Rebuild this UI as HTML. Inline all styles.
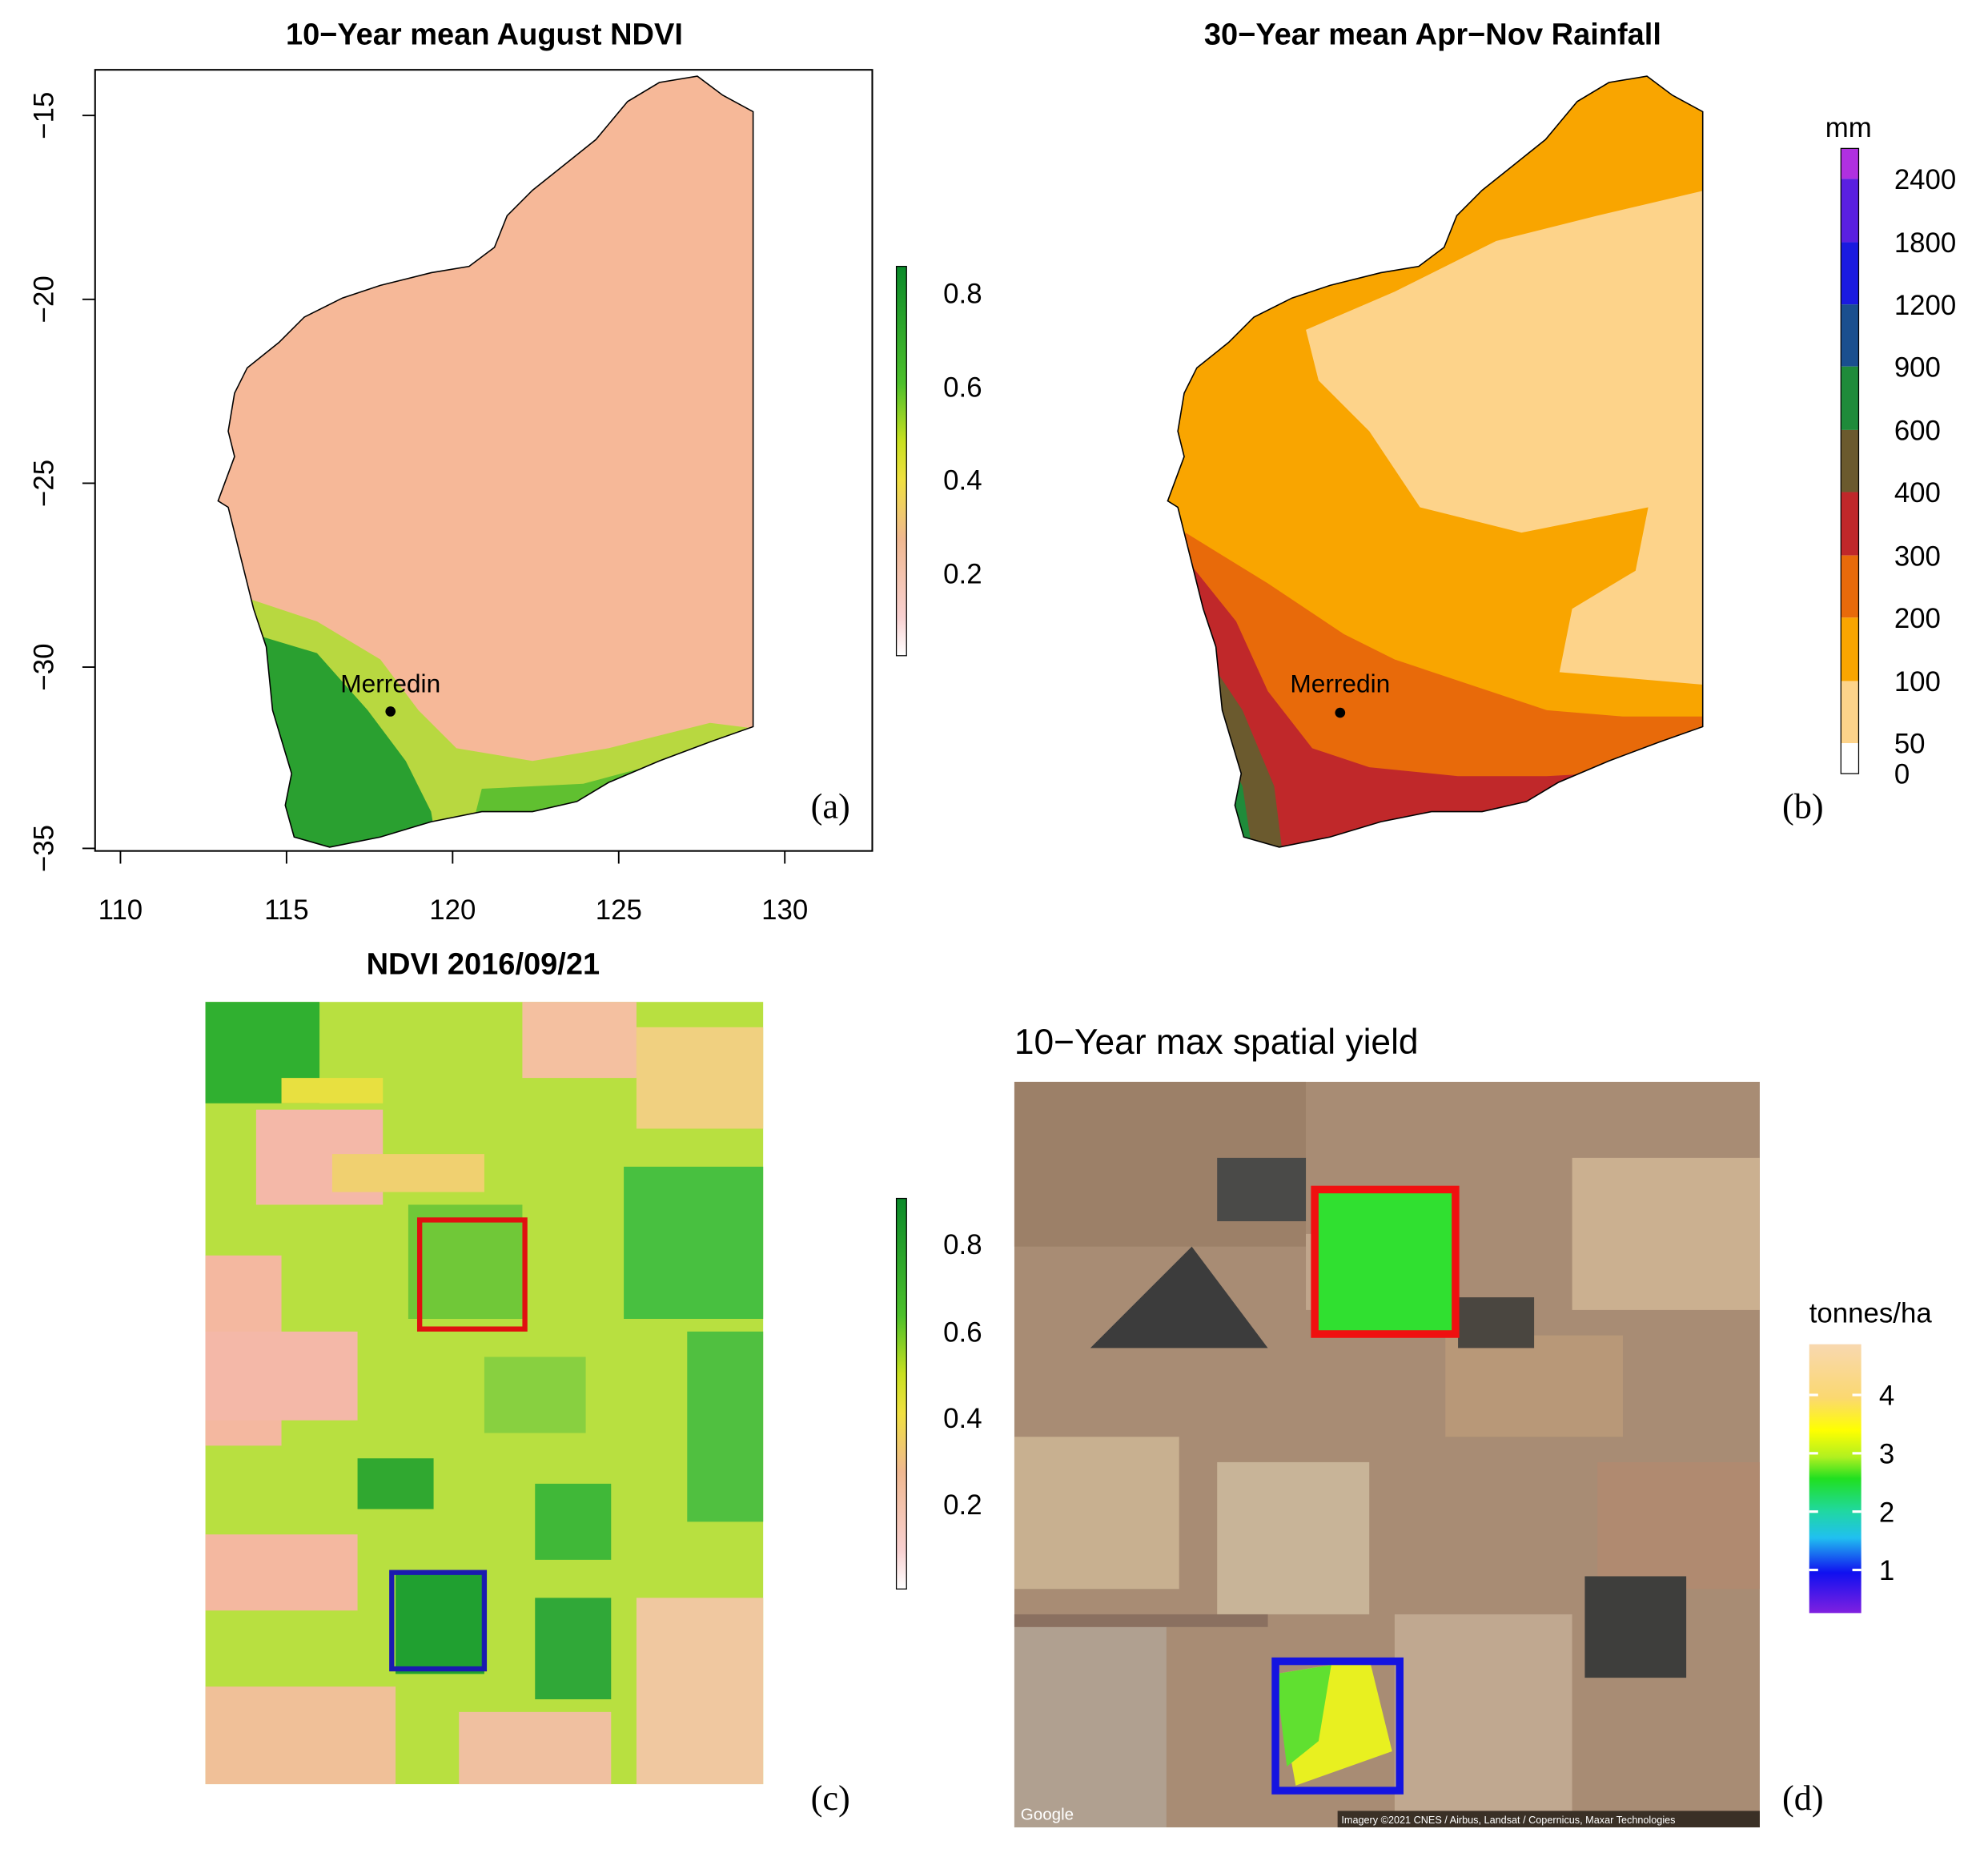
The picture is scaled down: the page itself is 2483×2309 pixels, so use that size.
<!DOCTYPE html>
<html><head><meta charset="utf-8"><style>html,body{margin:0;padding:0;background:#fff}svg{display:block}</style></head>
<body>
<svg xmlns="http://www.w3.org/2000/svg" width="2483" height="2309" viewBox="0 0 1568 1458" font-family="Liberation Sans, Arial, sans-serif">
<defs>
<path id="wa" d="M594,88 L594,573 L560,585 L520,600 L480,617 L455,632 L420,640 L380,640 L340,648 L300,660 L260,668 L232,660 L225,635 L230,610 L215,560 L210,510 L200,480 L190,440 L180,400 L172,395 L185,360 L180,340 L185,310 L195,290 L220,270 L240,250 L270,235 L300,225 L340,215 L370,210 L390,195 L400,170 L420,150 L445,130 L470,110 L495,80 L520,65 L550,60 L570,75 Z"/>
<clipPath id="ca"><use href="#wa"/></clipPath>
<clipPath id="cb"><use href="#wa" transform="translate(749,0)"/></clipPath>
<linearGradient id="ndvi" x1="0" y1="0" x2="0" y2="1">
<stop offset="0" stop-color="#0a8a2a"/><stop offset="0.3" stop-color="#4cc02a"/><stop offset="0.45" stop-color="#c8e020"/><stop offset="0.55" stop-color="#f0e040"/><stop offset="0.7" stop-color="#f0b890"/><stop offset="0.9" stop-color="#f8d0d0"/><stop offset="1" stop-color="#ffffff"/></linearGradient>
<linearGradient id="yld" x1="0" y1="0" x2="0" y2="1">
<stop offset="0" stop-color="#f8d8b0"/><stop offset="0.2" stop-color="#fbd870"/><stop offset="0.32" stop-color="#ffff00"/><stop offset="0.42" stop-color="#b0f020"/><stop offset="0.5" stop-color="#20e020"/><stop offset="0.62" stop-color="#20d8a0"/><stop offset="0.72" stop-color="#20c0f0"/><stop offset="0.85" stop-color="#1010f0"/><stop offset="1" stop-color="#8020e0"/></linearGradient>
</defs>

<!-- Panel a -->
<text x="382" y="35" text-anchor="middle" font-size="24" font-weight="bold">10−Year mean August NDVI</text>
<rect x="75" y="55" width="613" height="616" fill="none" stroke="#000" stroke-width="1.3"/>
<g clip-path="url(#ca)">
<rect x="150" y="50" width="460" height="640" fill="#f6b898"/>
<path d="M190,470 L250,490 L300,520 L330,560 L360,590 L420,600 L480,590 L560,570 L600,575 L600,700 L150,700 Z" fill="#b8d840"/>
<path d="M200,500 L250,515 L290,560 L320,600 L340,640 L350,700 L150,700 Z" fill="#2aa030"/>
<path d="M380,622 L460,618 L520,602 L600,582 L600,700 L360,700Z" fill="#60c030"/>
</g>
<use href="#wa" fill="none" stroke="#000" stroke-width="1"/>
<circle cx="308" cy="561" r="4" fill="#000"/>
<text x="308" y="546" text-anchor="middle" font-size="20">Merredin</text>
<text x="655" y="645" text-anchor="middle" font-size="28" font-family="Liberation Serif, serif">(a)</text>
<g stroke="#000" stroke-width="1.2">
<line x1="75" y1="91" x2="65" y2="91"/><line x1="75" y1="236" x2="65" y2="236"/><line x1="75" y1="381" x2="65" y2="381"/><line x1="75" y1="526" x2="65" y2="526"/><line x1="75" y1="669" x2="65" y2="669"/>
<line x1="95" y1="671" x2="95" y2="681"/><line x1="226" y1="671" x2="226" y2="681"/><line x1="357" y1="671" x2="357" y2="681"/><line x1="488" y1="671" x2="488" y2="681"/><line x1="619" y1="671" x2="619" y2="681"/>
</g>
<g font-size="22" text-anchor="middle">
<text transform="translate(42,91) rotate(-90)">−15</text>
<text transform="translate(42,236) rotate(-90)">−20</text>
<text transform="translate(42,381) rotate(-90)">−25</text>
<text transform="translate(42,526) rotate(-90)">−30</text>
<text transform="translate(42,669) rotate(-90)">−35</text>
<text x="95" y="725">110</text><text x="226" y="725">115</text><text x="357" y="725">120</text><text x="488" y="725">125</text><text x="619" y="725">130</text>
</g>
<rect x="707" y="210" width="8" height="307" fill="url(#ndvi)" stroke="#000" stroke-width="0.8"/>
<g font-size="22"><text x="744" y="239">0.8</text><text x="744" y="313">0.6</text><text x="744" y="386">0.4</text><text x="744" y="460">0.2</text></g>

<!-- Panel b -->
<text x="1130" y="35" text-anchor="middle" font-size="24" font-weight="bold">30−Year mean Apr−Nov Rainfall</text>
<g clip-path="url(#cb)">
<rect x="900" y="50" width="460" height="640" fill="#f9a500"/>
<path d="M1030,260 L1100,230 L1180,190 L1260,170 L1345,150 L1345,540 L1230,530 L1240,480 L1290,450 L1300,400 L1200,420 L1120,400 L1080,340 L1040,300 Z" fill="#fdd38a"/>
<path d="M935,420 L1000,460 L1060,500 L1100,520 L1160,540 L1220,560 L1280,565 L1345,565 L1345,700 L900,700 Z" fill="#e86a0a"/>
<path d="M935,440 L975,490 L1000,545 L1035,590 L1080,605 L1150,612 L1220,612 L1345,605 L1345,700 L900,700Z" fill="#c0282a"/>
<path d="M940,500 L980,560 L1005,620 L1015,700 L900,700Z" fill="#6b5a2e"/>
<path d="M950,560 L980,620 L992,700 L900,700Z" fill="#1f8b3a"/>
<path d="M960,600 L978,650 L985,700 L900,700Z" fill="#1a4fa0"/>
</g>
<use href="#wa" transform="translate(749,0)" fill="none" stroke="#000" stroke-width="1"/>
<circle cx="1057" cy="562" r="4" fill="#000"/>
<text x="1057" y="546" text-anchor="middle" font-size="20">Merredin</text>
<text x="1422" y="645" text-anchor="middle" font-size="28" font-family="Liberation Serif, serif">(b)</text>
<text x="1458" y="108" text-anchor="middle" font-size="22">mm</text>
<rect x="1452" y="117" width="14" height="24" fill="#b030e0"/>
<rect x="1452" y="141" width="14" height="50" fill="#5a20e0"/>
<rect x="1452" y="191" width="14" height="49" fill="#1a1ae0"/>
<rect x="1452" y="240" width="14" height="49" fill="#1a4f8f"/>
<rect x="1452" y="289" width="14" height="50" fill="#1f8b3a"/>
<rect x="1452" y="339" width="14" height="49" fill="#6b5a2e"/>
<rect x="1452" y="388" width="14" height="50" fill="#c0282a"/>
<rect x="1452" y="438" width="14" height="49" fill="#e86a0a"/>
<rect x="1452" y="487" width="14" height="50" fill="#f9a500"/>
<rect x="1452" y="537" width="14" height="49" fill="#fdd38a"/>
<rect x="1452" y="586" width="14" height="24" fill="#fff"/>
<rect x="1452" y="117" width="14" height="493" fill="none" stroke="#000" stroke-width="0.8"/>
<g font-size="22"><text x="1494" y="149">2400</text><text x="1494" y="199">1800</text><text x="1494" y="248">1200</text><text x="1494" y="297">900</text><text x="1494" y="347">600</text><text x="1494" y="396">400</text><text x="1494" y="446">300</text><text x="1494" y="495">200</text><text x="1494" y="545">100</text><text x="1494" y="594">50</text><text x="1494" y="618">0</text></g>

<!-- Panel c -->
<text x="381" y="768" text-anchor="middle" font-size="24" font-weight="bold">NDVI 2016/09/21</text>
<svg x="162" y="790" width="440" height="617" viewBox="0 0 440 617">
<rect width="440" height="617" fill="#b8e040"/>
<rect x="0" y="0" width="90" height="80" fill="#30b030"/>
<rect x="40" y="85" width="100" height="75" fill="#f4b8a8"/>
<rect x="250" y="0" width="90" height="60" fill="#f4c0a0"/>
<rect x="340" y="20" width="100" height="80" fill="#f0d080"/>
<rect x="0" y="200" width="60" height="150" fill="#f4b8a0"/>
<rect x="0" y="260" width="120" height="70" fill="#f4b8a8"/>
<rect x="330" y="130" width="110" height="120" fill="#48c040"/>
<rect x="160" y="160" width="90" height="90" fill="#70c838"/>
<rect x="380" y="260" width="60" height="150" fill="#50c040"/>
<rect x="120" y="360" width="60" height="40" fill="#30a830"/>
<rect x="260" y="380" width="60" height="60" fill="#40b838"/>
<rect x="150" y="450" width="70" height="80" fill="#20a030"/>
<rect x="260" y="470" width="60" height="80" fill="#30a838"/>
<rect x="0" y="420" width="120" height="60" fill="#f4b8a0"/>
<rect x="0" y="540" width="150" height="77" fill="#f0c098"/>
<rect x="200" y="560" width="120" height="57" fill="#f0c0a0"/>
<rect x="340" y="470" width="100" height="147" fill="#f0c8a0"/>
<rect x="100" y="120" width="120" height="30" fill="#f0d070"/>
<rect x="220" y="280" width="80" height="60" fill="#88d040"/>
<rect x="60" y="60" width="80" height="20" fill="#e8e040"/>
</svg>
<rect x="331" y="962" width="83" height="86" fill="none" stroke="#e01010" stroke-width="4"/>
<rect x="309" y="1240" width="73" height="76" fill="none" stroke="#1a1ab0" stroke-width="4"/>
<text x="655" y="1427" text-anchor="middle" font-size="28" font-family="Liberation Serif, serif">(c)</text>
<rect x="707" y="945" width="8" height="308" fill="url(#ndvi)" stroke="#000" stroke-width="0.8"/>
<g font-size="22"><text x="744" y="989">0.8</text><text x="744" y="1058">0.6</text><text x="744" y="1126">0.4</text><text x="744" y="1194">0.2</text></g>

<!-- Panel d -->
<text x="800" y="831" font-size="28">10−Year max spatial yield</text>
<svg x="800" y="853" width="588" height="588" viewBox="0 0 588 588">
<rect width="588" height="588" fill="#a88c74"/>
<rect x="0" y="0" width="230" height="130" fill="#9c8068"/>
<rect x="440" y="60" width="148" height="120" fill="#cbb090"/>
<polygon points="60,210 140,130 200,210" fill="#3c3c3c"/>
<rect x="160" y="60" width="70" height="50" fill="#4a4a48"/>
<rect x="0" y="280" width="130" height="120" fill="#c8b090"/>
<rect x="160" y="300" width="120" height="120" fill="#c8b498"/>
<rect x="230" y="120" width="100" height="60" fill="#c0a68c"/>
<rect x="340" y="200" width="140" height="80" fill="#b89878"/>
<rect x="460" y="300" width="128" height="100" fill="#b08a70"/>
<rect x="450" y="390" width="80" height="80" fill="#3e3e3c"/>
<rect x="0" y="430" width="120" height="158" fill="#b0a090"/>
<rect x="300" y="420" width="140" height="160" fill="#c0a890"/>
<rect x="350" y="170" width="60" height="40" fill="#4a4640"/>
<rect x="0" y="420" width="200" height="10" fill="#8a7060"/>
<rect x="255" y="575" width="333" height="13" fill="#3a3026"/>
<text x="258" y="585" font-size="8" fill="#fff">Imagery ©2021 CNES / Airbus, Landsat / Copernicus, Maxar Technologies</text>
<text x="5" y="582" font-size="13" fill="#fff">Google</text>
<rect x="239" y="87" width="107" height="111" fill="#30e030"/>
<path d="M206,467 L280,455 L298,528 L222,555 Z" fill="#e8f020"/>
<path d="M206,467 L250,460 L240,520 L215,540 Z" fill="#60e030"/>
</svg>
<rect x="1037" y="938" width="111" height="114" fill="none" stroke="#f01010" stroke-width="6"/>
<rect x="1006" y="1310" width="98" height="102" fill="none" stroke="#1414e0" stroke-width="6"/>
<text x="1422" y="1427" text-anchor="middle" font-size="28" font-family="Liberation Serif, serif">(d)</text>
<text x="1427" y="1043" font-size="22">tonnes/ha</text>
<rect x="1427" y="1060" width="41" height="212" fill="url(#yld)"/>
<g stroke="#fff" stroke-width="2"><line x1="1427" y1="1100" x2="1434" y2="1100"/><line x1="1461" y1="1100" x2="1468" y2="1100"/><line x1="1427" y1="1146" x2="1434" y2="1146"/><line x1="1461" y1="1146" x2="1468" y2="1146"/><line x1="1427" y1="1192" x2="1434" y2="1192"/><line x1="1461" y1="1192" x2="1468" y2="1192"/><line x1="1427" y1="1238" x2="1434" y2="1238"/><line x1="1461" y1="1238" x2="1468" y2="1238"/></g>
<g font-size="22"><text x="1482" y="1108">4</text><text x="1482" y="1154">3</text><text x="1482" y="1200">2</text><text x="1482" y="1246">1</text></g>
</svg>
</body></html>
